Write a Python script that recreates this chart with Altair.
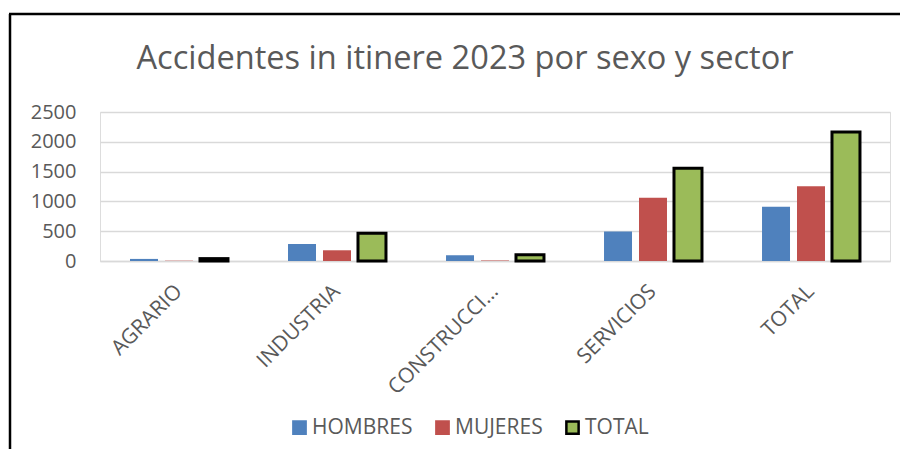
import altair as alt
import pandas as pd

TITLE = "Accidentes in itinere 2023 por sexo y sector"
sectores = ["AGRARIO", "INDUSTRIA", "CONSTRUCCIÓN", "SERVICIOS", "TOTAL"]
series = ["HOMBRES", "MUJERES", "TOTAL"]
hombres = [35, 285, 95, 495, 910]
mujeres = [5, 180, 10, 1060, 1255]
total = [40, 465, 105, 1555, 2165]
y_ticks = [0, 500, 1000, 1500, 2000, 2500]
colores = ["#4F81BD", "#C0504D", "#9BBB59"]
bordes = ["#4F81BD", "#C0504D", "#000000"]

rows = []
for i, s in enumerate(sectores):
    for serie, vals in zip(series, [hombres, mujeres, total]):
        rows.append({"sector": s, "serie": serie, "valor": vals[i]})
df = pd.DataFrame(rows)

FONT = "Open Sans"
GRAY = "#595959"

bars = alt.Chart(df).mark_bar().encode(
    x=alt.X("sector:N", sort=sectores, title=None,
            scale=alt.Scale(paddingInner=0.38, paddingOuter=0.19),
            axis=alt.Axis(labelAngle=-45, labelAlign="right", labelBaseline="middle",
                          labelPadding=27, ticks=False, domainColor="#D9D9D9",
                          domainWidth=1.3, labelLimit=155, labelFontSize=21,
                          labelColor=GRAY, labelFont=FONT)),
    xOffset=alt.XOffset("serie:N", sort=series,
                        scale=alt.Scale(paddingInner=0.2, paddingOuter=0)),
    y=alt.Y("valor:Q", title=None,
            scale=alt.Scale(domain=[0, 2500], nice=False),
            axis=alt.Axis(values=y_ticks, format="d", ticks=False, domain=False,
                          labelPadding=24, gridColor="#D9D9D9", gridWidth=1.3,
                          labelFontSize=20, labelColor=GRAY, labelFont=FONT)),
    fill=alt.Fill("serie:N", sort=series,
                  scale=alt.Scale(domain=series, range=colores),
                  legend=alt.Legend(title=None, orient="none", direction="horizontal",
                                    legendX=189, legendY=305, symbolType="square",
                                    symbolSize=150, symbolStrokeWidth=2.5,
                                    labelFontSize=21, labelColor=GRAY, labelFont=FONT,
                                    labelOffset=2, columnPadding=18)),
    stroke=alt.Stroke("serie:N", sort=series,
                      scale=alt.Scale(domain=series, range=bordes)),
    strokeWidth=alt.condition("datum.serie == 'TOTAL'", alt.value(3), alt.value(0)),
)

frame = alt.Data(values=[{"k": 1}])
left_line = alt.Chart(frame).mark_rule(color="black", strokeWidth=2.5).encode(
    x=alt.value(-90), y=alt.value(-98), y2=alt.value(360))
top_line = alt.Chart(frame).mark_rule(color="black", strokeWidth=2.5).encode(
    x=alt.value(-91), x2=alt.value(820), y=alt.value(-98))

title = alt.Chart(alt.Data(values=[{"t": TITLE}])).mark_text(
    font=FONT, fontSize=32.6, color=GRAY, align="center", baseline="alphabetic"
).encode(text="t:N", x=alt.value(365), y=alt.value(-43))

chart = alt.layer(bars, left_line, top_line, title).properties(
    width=790, height=149,
    autosize=alt.AutoSizeParams(type="none"),
    padding={"left": 92, "top": 104, "right": 10, "bottom": 188},
).configure_view(stroke=None).configure(background="white")

chart.save("out.html", embed_options={"renderer": "svg", "actions": False})
